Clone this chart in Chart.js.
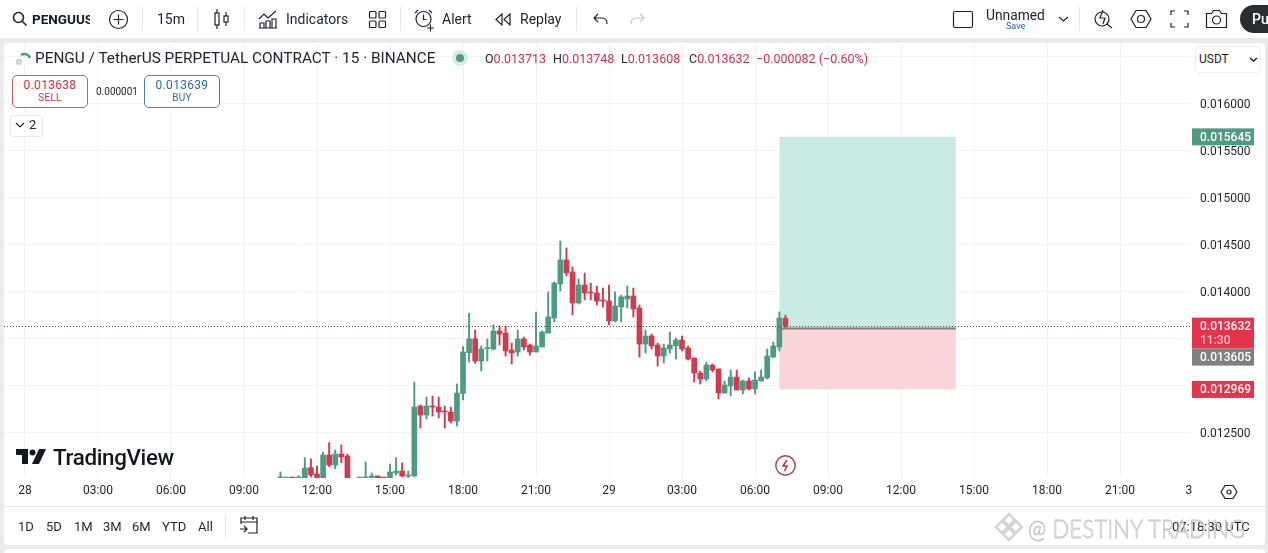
<!DOCTYPE html>
<html>
<head>
<meta charset="utf-8">
<title>PENGU / TetherUS</title>
<script src="https://cdn.jsdelivr.net/npm/chart.js@4"></script>
<style>
  html, body { margin: 0; padding: 0; background: #e9eaec; overflow: hidden; }
  body { width: 1268px; height: 553px; position: relative; font-family: Roboto, sans-serif; color: #131722; }
  .abs { position: absolute; white-space: nowrap; }
  #toolbar { left: 0; top: 0; width: 1268px; height: 38px; background: #fff; }
  #panel { left: 4px; top: 43px; width: 1261px; height: 502px; background: #fff; border-radius: 4px; }
  #panel2 { left: 4px; top: 549px; width: 1261px; height: 4px; background: #fff; border-radius: 4px 4px 0 0; }
  #rule { left: 4px; top: 506px; width: 1261px; height: 1px; background: #e6e7ea; }
  canvas { position: absolute; left: 0; top: 0; }
  .tb { font-size: 14px; top: 11px; color: #1e222d; }
  .sep { top: 7px; width: 1px; height: 24px; background: #e6e7ea; }
  .rng { font-size: 13px; top: 519px; color: #1e222d; }
  .vendor { font-size: 12.5px; top: 51px; color: #c9334f; }
  .vendor b { font-weight: 400; color: #1e222d; }
  .quote { width: 74px; height: 29px; border-radius: 5px; background: #fff; text-align: center; top: 75px; font-size: 12px; line-height: 14px; padding-top: 2px; box-sizing: content-box; letter-spacing: .3px; }
  .quote span { display: block; font-size: 10px; line-height: 12px; }
  svg { position: absolute; overflow: visible; fill: none; stroke: #1e222d; stroke-width: 1.2; }
</style>
</head>
<body>
<div class="abs" id="toolbar"></div>
<div class="abs" id="panel"></div>
<div class="abs" id="panel2"></div>
<div class="abs" id="rule"></div>
<canvas id="grafico" width="1268" height="553"></canvas>

<!-- toolbar -->
<svg style="left:12px;top:11px" width="16" height="16"><circle cx="6.5" cy="6.5" r="5" stroke-width="1.6"/><path d="M10 10l4.5 4.5" stroke-width="1.6"/></svg>
<div class="abs" style="left:32px;top:11px;width:58px;overflow:hidden;font-size:13.5px;font-weight:700;color:#131722">PENGUUSDT</div>
<svg style="left:109px;top:10px" width="19" height="19"><circle cx="9.5" cy="9.5" r="9"/><path d="M9.5 4.5v10M4.5 9.5h10"/></svg>
<div class="abs sep" style="left:142px"></div>
<div class="abs tb" style="left:157px">15m</div>
<div class="abs sep" style="left:197px"></div>
<svg style="left:214px;top:9px" width="16" height="20"><path d="M3 0v20M12 3v14"/><rect x="1" y="4" width="4" height="12" fill="#fff"/><rect x="10" y="7" width="4" height="6" fill="#fff"/></svg>
<div class="abs sep" style="left:244px"></div>
<svg style="left:259px;top:10px" width="19" height="19"><path d="M0 9l5-5 4 4 8-7M1 18v-5h4v5M7 18v-7h4v7M13 18v-9h4v9M0 18h18"/></svg>
<div class="abs tb" style="left:286px">Indicators</div>
<svg style="left:369px;top:11px" width="17" height="17"><rect x=".5" y=".5" width="6.5" height="6.5" rx="1"/><rect x="10" y=".5" width="6.5" height="6.5" rx="1"/><rect x=".5" y="10" width="6.5" height="6.5" rx="1"/><rect x="10" y="10" width="6.5" height="6.5" rx="1"/></svg>
<div class="abs sep" style="left:400px"></div>
<svg style="left:414px;top:9px" width="20" height="21"><circle cx="9.5" cy="10" r="7.5"/><path d="M9.5 5.5v5h3M1 4l3-3M18 4l-3-3M13 19h7M16.5 15.5v7"/></svg>
<div class="abs tb" style="left:442px">Alert</div>
<svg style="left:495px;top:13px" width="16" height="13"><path d="M7 1L1 6.5 7 12zM15 1L9 6.5 15 12z"/></svg>
<div class="abs tb" style="left:520px">Replay</div>
<div class="abs sep" style="left:576px"></div>
<svg style="left:593px;top:13px" width="15" height="12"><path d="M5 1L1 5l4 4M1 5h8c3 0 5 2 5 6"/></svg>
<svg style="left:630px;top:13px;stroke:#c4c6cc" width="15" height="12"><path d="M10 1l4 4-4 4M14 5H6c-3 0-5 2-5 6"/></svg>
<svg style="left:953px;top:11px" width="20" height="17"><rect x=".5" y=".5" width="19" height="16" rx="1.5"/></svg>
<div class="abs" style="left:986px;top:7px;font-size:13.8px;color:#1e222d">Unnamed</div>
<div class="abs" style="left:1006px;top:21px;font-size:9px;color:#2962a8">Save</div>
<svg style="left:1059px;top:17px" width="9" height="5"><path d="M0 0l4.5 4L9 0"/></svg>
<div class="abs sep" style="left:1079px"></div>
<svg style="left:1094px;top:9px" width="18" height="20"><circle cx="8" cy="10" r="7"/><path d="M13 15l5 4M9 1L6 9h5l-2 6"/></svg>
<svg style="left:1131px;top:10px" width="20" height="18"><path d="M5 .5h10l5 8.5-5 8.5H5L0 9z"/><circle cx="10" cy="9" r="3.5"/></svg>
<svg style="left:1171px;top:11px" width="17" height="16"><path d="M0 4V0h4M13 0h4v4M17 12v4h-4M4 16H0v-4"/></svg>
<svg style="left:1206px;top:10px" width="21" height="18"><path d="M.5 3.5h5l2-3h6l2 3h5v14H.5z"/><circle cx="10.5" cy="10" r="4"/></svg>
<div class="abs" style="left:1240px;top:5px;width:28px;height:28px;background:#2a2e30;border-radius:14px 0 0 14px;color:#fff;font-size:14px;font-weight:500;line-height:28px;text-indent:12px;overflow:hidden">Pu</div>

<!-- legend -->
<svg style="left:15px;top:50px;stroke:#4f9a83;stroke-width:2.5" width="16" height="16"><path d="M6 5a6 6 0 0 1 9 3"/><circle cx="4" cy="12" r="2" stroke="#c9d4d6"/></svg>
<div class="abs" style="left:35px;top:49px;font-size:15.35px;color:#1e222d">PENGU / TetherUS PERPETUAL CONTRACT · 15 · BINANCE</div>
<div class="abs" style="left:452px;top:50px;width:16px;height:16px;border-radius:8px;background:#d6ebe6"></div>
<div class="abs" style="left:456px;top:54px;width:8px;height:8px;border-radius:4px;background:#4f9a83"></div>
<div class="abs vendor" style="left:485px"><b>O</b>0.013713</div>
<div class="abs vendor" style="left:553px"><b>H</b>0.013748</div>
<div class="abs vendor" style="left:621px"><b>L</b>0.013608</div>
<div class="abs vendor" style="left:689px"><b>C</b>0.013632</div>
<div class="abs vendor" style="left:756px">−0.000082 (−0.60%)</div>
<div class="abs quote" style="left:12px;border:1px solid #c9586a;color:#c9334f">0.013638<span>SELL</span></div>
<div class="abs" style="left:96px;top:86px;font-size:10px;color:#1e222d">0.000001</div>
<div class="abs quote" style="left:144px;border:1px solid #4f7fa8;color:#2f6aa3">0.013639<span>BUY</span></div>
<div class="abs" style="left:10px;top:115px;width:31px;height:20px;border:1px solid #e6e7ea;border-radius:3px;background:#fff"></div>
<svg style="left:16px;top:123px" width="8" height="5"><path d="M0 0l4 4 4-4"/></svg>
<div class="abs" style="left:29px;top:117px;font-size:13px;color:#1e222d">2</div>
<div class="abs" style="left:1195px;top:46px;width:64px;height:25px;border:1px solid #eceef1;border-radius:4px;background:#fff"></div>
<div class="abs" style="left:1199px;top:52px;font-size:12px;color:#1e222d">USDT</div>
<svg style="left:1250px;top:58px" width="7" height="4"><path d="M0 0l3.5 3L7 0" stroke-width="1.5"/></svg>

<!-- logo and marks -->
<svg style="left:16px;top:449px;stroke:none;fill:#131722" width="30" height="16"><path d="M0 0h12v15H6V6H0z"/><circle cx="16.5" cy="3.5" r="3"/><path d="M23 0h7l-7 15h-7z"/></svg>
<div class="abs" style="left:53px;top:444px;font-size:22.4px;font-weight:500;letter-spacing:-.35px;color:#131722">TradingView</div>
<svg style="left:775px;top:455px;stroke:#a8404c" width="21" height="21"><circle cx="10.5" cy="10.5" r="9.7" stroke-width="1.4"/><path d="M12 5l-4 6h4l-2.5 5" stroke-width="1.6"/></svg>
<svg style="left:1221px;top:485px" width="16" height="14"><path d="M4 .5h8l4 6.5-4 6.5H4L0 7z"/><circle cx="8" cy="7" r="2"/></svg>

<!-- time range bar -->
<div class="abs rng" style="left:18px">1D</div>
<div class="abs rng" style="left:46px">5D</div>
<div class="abs rng" style="left:74px">1M</div>
<div class="abs rng" style="left:103px">3M</div>
<div class="abs rng" style="left:132px">6M</div>
<div class="abs rng" style="left:162px">YTD</div>
<div class="abs rng" style="left:198px">All</div>
<div class="abs" style="left:225px;top:514px;width:1px;height:24px;background:#e6e7ea"></div>
<svg style="left:240px;top:516px" width="18" height="18"><path d="M5 0v4M13 0v4M1 8V2h16v15H8M1 6h16M0 13h7M4 10l3 3-3 3"/></svg>
<div class="abs" style="left:1172px;top:519px;font-size:13px;color:#1e222d">07:18:30 UTC</div>

<!-- watermark -->
<svg style="left:995px;top:513px;stroke:#d4d4d4;stroke-width:2.5;fill:#fff" width="28" height="28"><path d="M14 1l6 6-6 6-6-6zM7 8l6 6-6 6-6-6zM21 8l6 6-6 6-6-6zM14 15l6 6-6 6-6-6z"/></svg>
<div class="abs" style="left:1028px;top:513px;font-size:25px;font-family:Lato,sans-serif;font-weight:300;letter-spacing:.4px;color:rgba(255,255,255,.55);-webkit-text-stroke:.8px #c4c4c4;transform:scaleX(.87);transform-origin:left center">@ DESTINY TRADING</div>

<script>
// Candles, one 15 minute bar each, starting at bar 42 (10:30 on the 28th)
const primeiraBarra = 42;
const aberturas = [0.011990,0.011950,0.011955,0.011990,0.012000,0.012126,0.012058,0.012010,0.012261,0.012154,0.012271,0.012250,0.011990,0.011970,0.011990,0.011990,0.012037,0.011980,0.012000,0.012069,0.012090,0.012037,0.012037,0.012782,0.012686,0.012777,0.012771,0.012729,0.012718,0.012622,0.012917,0.013349,0.013495,0.013260,0.013392,0.013388,0.013580,0.013558,0.013378,0.013356,0.013495,0.013431,0.013356,0.013410,0.013558,0.013718,0.014080,0.014335,0.014208,0.013878,0.014069,0.013995,0.013984,0.013910,0.013899,0.013686,0.013835,0.013920,0.013952,0.013824,0.013441,0.013527,0.013431,0.013314,0.013388,0.013420,0.013484,0.013399,0.013293,0.013133,0.013069,0.013218,0.013176,0.012920,0.012995,0.013090,0.012952,0.013048,0.012963,0.013048,0.013080,0.013303,0.013410,0.013713];
const maximas = [0.012080,0.011960,0.011965,0.012040,0.012232,0.012218,0.012144,0.012289,0.012391,0.012314,0.012367,0.012271,0.011995,0.011985,0.012186,0.012069,0.012037,0.011990,0.012165,0.012232,0.012176,0.012090,0.013037,0.012793,0.012878,0.012888,0.012878,0.012782,0.012771,0.013016,0.013413,0.013768,0.013590,0.013420,0.013495,0.013644,0.013633,0.013633,0.013452,0.013590,0.013516,0.013441,0.013782,0.013580,0.013995,0.014101,0.014537,0.014463,0.014261,0.014133,0.014197,0.014090,0.014058,0.014037,0.014069,0.013995,0.013963,0.014058,0.014037,0.013856,0.013590,0.013548,0.013452,0.013441,0.013569,0.013505,0.013527,0.013420,0.013293,0.013154,0.013250,0.013229,0.013176,0.013048,0.013165,0.013165,0.013058,0.013080,0.013144,0.013165,0.013388,0.013463,0.013782,0.013748];
const minimas = [0.011980,0.011940,0.011945,0.011980,0.011980,0.012027,0.011990,0.012000,0.012136,0.012115,0.012179,0.011990,0.011960,0.011950,0.011970,0.011980,0.011985,0.011960,0.011990,0.012048,0.012027,0.012016,0.012032,0.012548,0.012644,0.012676,0.012654,0.012548,0.012601,0.012569,0.012846,0.013250,0.013236,0.013154,0.013260,0.013378,0.013431,0.013314,0.013229,0.013314,0.013378,0.013324,0.013356,0.013410,0.013558,0.013676,0.014005,0.014165,0.013750,0.013867,0.013910,0.013910,0.013856,0.013835,0.013644,0.013676,0.013676,0.013824,0.013729,0.013303,0.013346,0.013388,0.013207,0.013239,0.013346,0.013282,0.013367,0.013271,0.013037,0.013016,0.013048,0.013144,0.012856,0.012920,0.012888,0.012952,0.012910,0.012952,0.012910,0.013048,0.013069,0.013293,0.013367,0.013608];
const fechamentos = [0.011995,0.011955,0.011950,0.012000,0.012122,0.012048,0.012000,0.012261,0.012154,0.012271,0.012239,0.012000,0.011970,0.011980,0.012000,0.012037,0.012000,0.011970,0.012080,0.012090,0.012037,0.012048,0.012771,0.012686,0.012782,0.012771,0.012718,0.012718,0.012622,0.012920,0.013356,0.013495,0.013260,0.013388,0.013399,0.013580,0.013548,0.013367,0.013346,0.013495,0.013410,0.013356,0.013420,0.013569,0.013729,0.014090,0.014335,0.014197,0.013878,0.014069,0.013984,0.013984,0.013899,0.013899,0.013686,0.013846,0.013942,0.013952,0.013814,0.013441,0.013527,0.013420,0.013314,0.013399,0.013431,0.013484,0.013388,0.013282,0.013133,0.013069,0.013218,0.013165,0.012920,0.013005,0.013090,0.012952,0.013048,0.012963,0.013058,0.013090,0.013314,0.013420,0.013718,0.013632];

// Eixos
const xTicks = [0,12,24,36,48,60,72,84,96,108,120,132,144,156,168,180,191.3];
const xLabels = ['28','03:00','06:00','09:00','12:00','15:00','18:00','21:00','29','03:00','06:00','09:00','12:00','15:00','18:00','21:00','3'];
const yTicks = [0.0125,0.013,0.0135,0.014,0.0145,0.015,0.0155,0.016,0.0165];
const yLabels = ['0.012500','0.013000','0.013500','0.014000','0.014500','0.015000','0.015500','0.016000',''];

// Long position tool and price marks
const posicaoInicio = 124;
const posicaoFim = 153;
const precoAlvo = 0.015645;
const precoEntrada = 0.013605;
const precoStop = 0.012969;
const precoAtual = 0.013632;

const VERDE = '#4f9a83';
const VERMELHO = '#cf3b50';

const plugPosicao = {
  id: 'posicao',
  beforeDatasetsDraw(chart) {
    const { ctx, scales: { x, y } } = chart;
    const x0 = x.getPixelForValue(posicaoInicio);
    const x1 = x.getPixelForValue(posicaoFim);
    const yEnt = y.getPixelForValue(precoEntrada);
    ctx.save();
    ctx.fillStyle = '#cbe9e3';
    ctx.fillRect(x0, y.getPixelForValue(precoAlvo), x1 - x0, yEnt - y.getPixelForValue(precoAlvo));
    ctx.fillStyle = '#f8d5d9';
    ctx.fillRect(x0, yEnt, x1 - x0, y.getPixelForValue(precoStop) - yEnt + 1);
    ctx.restore();
  },
  afterDatasetsDraw(chart) {
    const { ctx, chartArea, scales: { x, y } } = chart;
    const yEnt = y.getPixelForValue(precoEntrada);
    const yAtual = Math.round(y.getPixelForValue(precoAtual)) + 0.5;
    ctx.save();
    ctx.strokeStyle = '#7f7f7f';
    ctx.lineWidth = 2;
    ctx.beginPath();
    ctx.moveTo(x.getPixelForValue(posicaoInicio), yEnt);
    ctx.lineTo(x.getPixelForValue(posicaoFim), yEnt);
    ctx.stroke();
    // linha do preço atual
    ctx.strokeStyle = '#5f3f49';
    ctx.lineWidth = 1;
    ctx.setLineDash([1, 2]);
    ctx.beginPath();
    ctx.moveTo(chartArea.left, yAtual);
    ctx.lineTo(chartArea.right, yAtual);
    ctx.stroke();
    ctx.restore();
  },
  afterDraw(chart) {
    const { ctx, scales: { y } } = chart;
    // desloc: the label is pushed down when it would collide with the one above
    const etiqueta = (preco, cor, txt, desloc, sub) => {
      const yc = y.getPixelForValue(preco) + desloc;
      ctx.fillStyle = cor;
      ctx.fillRect(1192, yc - 8.5, 62, sub ? 31 : 17);
      ctx.fillStyle = '#fff';
      ctx.font = '500 12px Roboto';
      ctx.textBaseline = 'middle';
      ctx.textAlign = 'left';
      ctx.fillText(txt, 1200, yc + 1);
      if (sub) {
        ctx.fillStyle = '#f6c4ca';
        ctx.fillText(sub, 1200, yc + 15);
      }
    };
    ctx.save();
    etiqueta(precoAlvo, VERDE, '0.015645', 0);
    etiqueta(precoStop, '#e5334b', '0.012969', 1);
    etiqueta(precoAtual, '#e5334b', '0.013632', 0, '11:30');
    etiqueta(precoEntrada, '#808080', '0.013605', 28.5);
    ctx.restore();
  }
};

const pares = (a, b) => a.map((v, i) => ({ x: primeiraBarra + i, y: [v, b[i]] }));
const cores = aberturas.map((o, i) => (fechamentos[i] >= o ? VERDE : VERMELHO));

new Chart(document.getElementById('grafico').getContext('2d'), {
  type: 'bar',
  data: {
    datasets: [
      { label: 'corpo', data: pares(aberturas, fechamentos), backgroundColor: cores, barThickness: 5, minBarLength: 1, grouped: false },
      { label: 'pavio', data: pares(minimas, maximas), backgroundColor: cores, barThickness: 1.3, grouped: false }
    ]
  },
  options: {
    responsive: false,
    animation: false,
    events: [],
    layout: { padding: { left: 4, top: 42, right: 0, bottom: 0 } },
    plugins: { legend: { display: false }, tooltip: { enabled: false } },
    scales: {
      x: {
        type: 'linear',
        offset: false,
        min: -3.45,
        max: 191.5,
        afterFit: s => { s.height = 75; },
        afterBuildTicks: s => { s.ticks = xTicks.map(value => ({ value })); },
        grid: {
          offset: false,
          drawTicks: false,
          color: c => (c.tick && c.tick.value === 191.3 ? 'transparent' : '#f1f2f5')
        },
        border: { display: false },
        ticks: {
          autoSkip: false,
          maxRotation: 0,
          padding: 6,
          color: '#1e222d',
          font: { family: 'Roboto', size: 12 },
          callback: (v, i) => xLabels[i]
        }
      },
      y: {
        position: 'right',
        min: 0.012016,
        max: 0.016654,
        afterFit: s => { s.width = 78; },
        afterBuildTicks: s => { s.ticks = yTicks.map(value => ({ value })); },
        grid: { drawTicks: false, color: '#f1f2f5' },
        border: { display: false },
        ticks: {
          autoSkip: false,
          padding: 10,
          labelOffset: 1.5,
          color: '#1e222d',
          font: { family: 'Roboto', size: 12 },
          callback: (v, i) => yLabels[i]
        }
      }
    }
  },
  plugins: [plugPosicao]
});
</script>
</body>
</html>
